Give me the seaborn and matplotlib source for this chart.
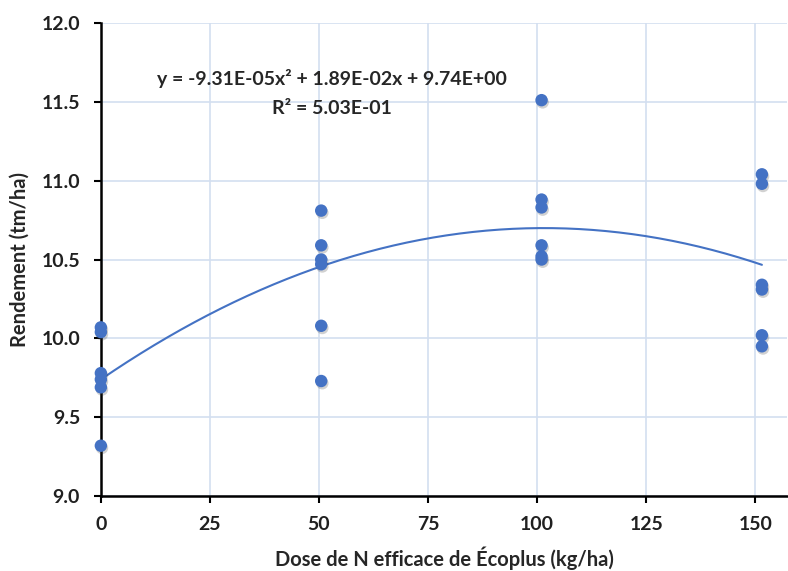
import numpy as np
import pandas as pd
import seaborn as sns
import matplotlib.pyplot as plt
import matplotlib.patheffects as pe

# dose values (kg/ha) and yields (tm/ha)
dose = [0] * 6 + [50.5] * 6 + [101] * 6 + [151.5] * 6
rendement = [10.07, 10.04, 9.78, 9.74, 9.69, 9.32,
             10.81, 10.59, 10.50, 10.47, 10.08, 9.73,
             11.51, 10.88, 10.83, 10.59, 10.52, 10.50,
             11.04, 10.98, 10.34, 10.31, 10.02, 9.95]

# quadratic trendline coefficients shown on the chart
coef = [-9.31e-05, 1.89e-02, 9.74]
x_ticks = [0, 25, 50, 75, 100, 125, 150]
y_ticks = [9.0, 9.5, 10.0, 10.5, 11.0, 11.5, 12.0]

df = pd.DataFrame({'dose': dose, 'rendement': rendement})

sns.set_style('white')
plt.rcParams['font.family'] = ['Lato', 'DejaVu Sans']

fig = plt.figure(figsize=(7.88, 5.71), dpi=100)
ax = fig.add_axes([0.128, 0.131, 0.871, 0.829])

blue = '#4472C4'

# trendline
xs = np.linspace(0, max(dose), 200)
ax.plot(xs, np.polyval(coef, xs), color=blue, lw=1.5, zorder=2)

sns.scatterplot(data=df, x='dose', y='rendement', ax=ax, color=blue, s=80,
                edgecolor='none', zorder=3,
                path_effects=[pe.SimplePatchShadow(offset=(0.8, -1.6), shadow_rgbFace='#303030', alpha=0.22),
                              pe.Normal()])
ax.collections[0].set_clip_on(False)

ax.set_xlim(0, 157.3)
ax.set_ylim(9.0, 12.0)
ax.set_xticks(x_ticks)
ax.set_yticks(y_ticks)
ax.set_yticklabels([f'{v:.1f}' for v in y_ticks])
ax.grid(True, color='#D3DFF0', lw=1.2)
ax.set_axisbelow(True)

for s in ['top', 'right']:
    ax.spines[s].set_visible(False)
for s in ['left', 'bottom']:
    ax.spines[s].set_color('black')
    ax.spines[s].set_linewidth(1.8)

ax.tick_params(axis='both', direction='out', length=5, width=1.5, color='black',
               labelsize=14, left=True, bottom=True)
ax.tick_params(axis='y', pad=10)
ax.tick_params(axis='x', pad=9)
for lab in ax.get_xticklabels() + ax.get_yticklabels():
    lab.set_fontweight('bold')
    lab.set_color('#202020')

ax.set_xlabel('Dose de N efficace de Écoplus (kg/ha)', fontsize=14.5, fontweight='bold', labelpad=10)
ax.set_ylabel('Rendement (tm/ha)', fontsize=14.5, fontweight='bold', labelpad=8)

ax.text(53, 11.65, 'y = -9.31E-05x² + 1.89E-02x + 9.74E+00', ha='center', va='center',
        fontsize=14, fontweight='bold')
ax.text(53, 11.46, 'R² = 5.03E-01', ha='center', va='center',
        fontsize=14, fontweight='bold')

fig.savefig('out.png', dpi=100)
